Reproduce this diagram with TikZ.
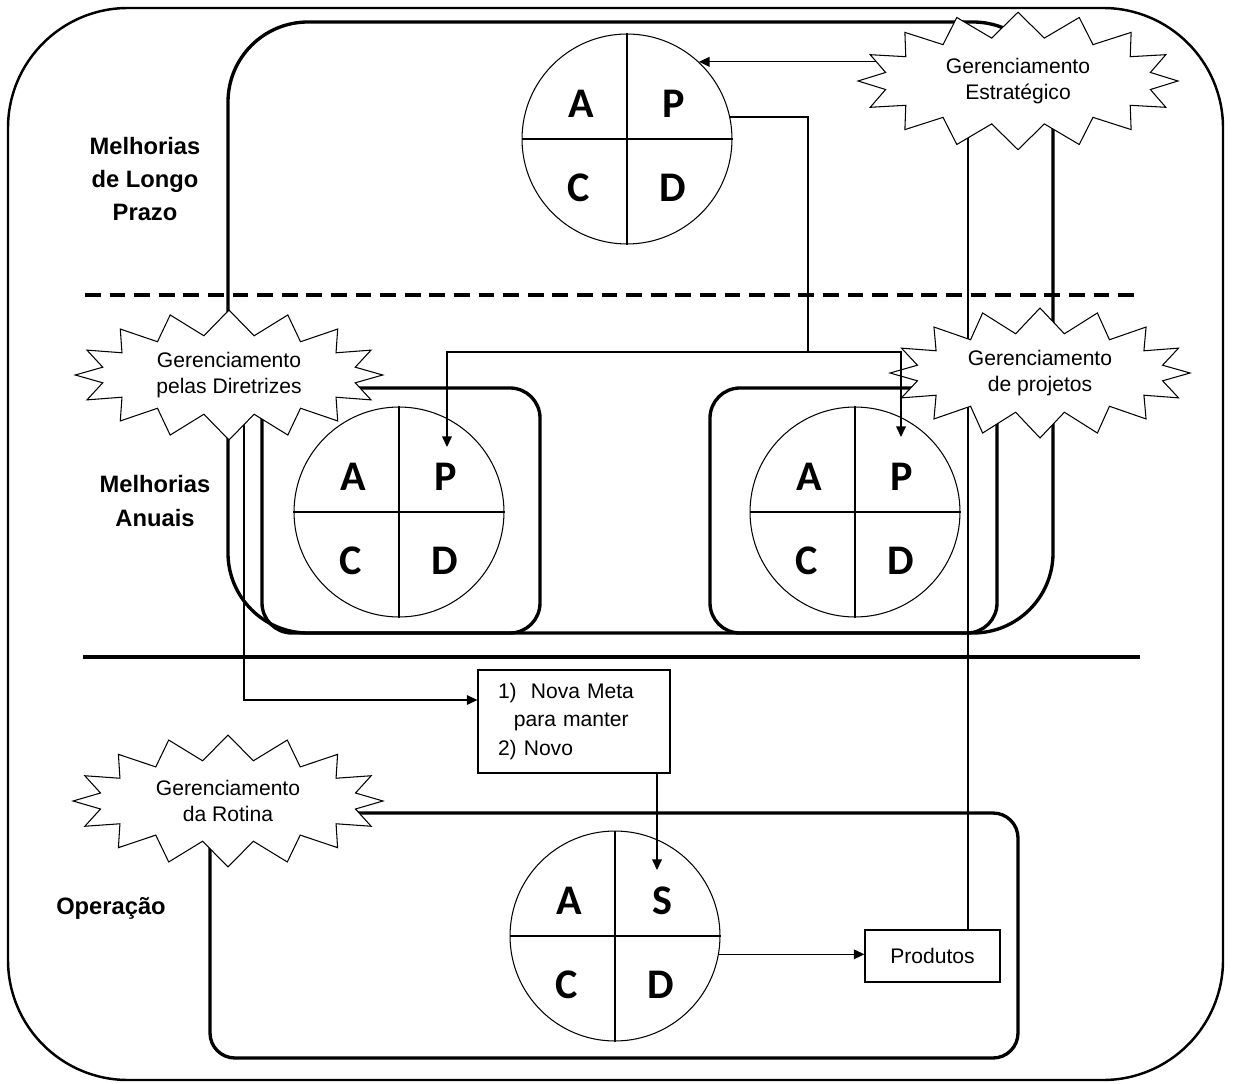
\documentclass[tikz,border=0pt]{standalone}
\usepackage{fontspec}
\setmainfont{Liberation Sans}
\newfontfamily\pdcafont{Carlito}
\usetikzlibrary{shapes.symbols,arrows.meta}
\pgfdeclarelayer{bg}
\pgfsetlayers{bg,main}
\tikzset{
  pdca/.style={circle,draw,line width=0.6pt,minimum size=4.2cm,inner sep=0pt},
  letter/.style={font=\pdcafont\fontsize{24}{24}\selectfont\bfseries,inner sep=0pt},
  burst/.style={starburst,starburst points=16,starburst point height=0.5cm,random starburst=0,
    draw,fill=white,line width=0.6pt,align=center,inner sep=0pt,font=\fontsize{12}{15.3}\selectfont},
  box/.style={draw,line width=1.9pt,rounded corners=0.6cm},
  conn/.style={line width=0.7pt},
  txtbox/.style={draw,line width=0.7pt,fill=white,font=\fontsize{12}{16.4}\selectfont},
  lbl/.style={align=center,font=\fontsize{13.5}{19}\selectfont\bfseries}
}
\begin{document}
\begin{tikzpicture}[x=0.02cm,y=-0.02cm,>={Triangle[length=6pt,width=5.5pt]}]
\useasboundingbox (0,0) rectangle (1233,1084);
\node[lbl] (longoLbl) at (145,179) {Melhorias\\de Longo\\Prazo};
\node[lbl] (anualLbl) at (155,501) {Melhorias\\Anuais};
\node[lbl] (operLbl) at (111,908) {Operação};
\foreach \n/\px/\py/\s in {longo/627/139/P,anualA/399/512/P,anualB/855/512/P,oper/615/936/S}
{
    \node[pdca] (\n) at (\px,\py) {};
    \draw[conn] (\n.north)--(\n.south) (\n.west)--(\n.east);
    \node[letter] (\n-a) at ([shift={(-46,-35)}]\n.center) {A};
    \node[letter] (\n-p) at ([shift={(47,-35)}]\n.center) {\s};
    \node[letter] (\n-c) at ([shift={(-48,49)}]\n.center) {C};
    \node[letter] (\n-d) at ([shift={(46,49)}]\n.center) {D};
}
\node[burst,minimum width=6.4cm,minimum height=2.75cm] (estr) at (1018,81) {Gerenciamento\\Estratégico};
\node[burst,minimum width=6.15cm,minimum height=2.6cm] (diretr) at (229,375) {Gerenciamento\\pelas Diretrizes};
\node[burst,minimum width=6cm,minimum height=2.6cm] (projetos) at (1040,373) {Gerenciamento\\de projetos};
\node[burst,minimum width=6.2cm,minimum height=2.64cm] (rotina) at (228,801) {Gerenciamento\\da Rotina};
\node[txtbox,minimum width=3.84cm,minimum height=2.06cm,text width=3.04cm,inner xsep=0.4cm,align=left] (meta) at (574,721.5) {1)\ \ Nova Meta\\\hspace*{9pt}para manter\\2) Novo};
\node[txtbox,minimum width=2.7cm,minimum height=1.04cm] (prod) at (932.5,956) {Produtos};
\begin{pgfonlayer}{bg}
\draw[line width=1.4pt,rounded corners=2.4cm] (8,8) rectangle (1223,1080);
\draw[box,rounded corners=1.6cm] (228,22) rectangle (1053,633);
\draw[box] (262,388) rectangle (540,633);
\draw[box] (710,388) rectangle (997,633);
\draw[box,rounded corners=0.5cm] (210,813) rectangle (1018,1058);
\draw[line width=2pt,dash pattern=on 9pt off 5pt] (85,295)--(1140,295);
\draw[line width=1.9pt] (83,657)--(1140,657);
\draw[conn,->] (estr.center |- longo.47)--(longo.47);
\draw[conn] (estr.center) -| ([xshift=0.71cm]prod.north);
\draw[conn,->] ([xshift=0.3cm]diretr.center) |- ([yshift=0.43cm]meta.west);
\end{pgfonlayer}
\coordinate (split) at (808,352);
\coordinate (sIn) at ([shift={(42,-66)}]oper.center);
\draw[conn] (longo.12) -| (split);
\draw[conn,->] (split) -| ([shift={(48,-65)}]anualA.center);
\draw[conn,->] (split) -| ([shift={(46,-75)}]anualB.center);
\draw[conn,->] (meta.south -| sIn)--(sIn);
\draw[conn,->] (oper.-10)--(oper.-10 -| prod.west);
\end{tikzpicture}
\end{document}
